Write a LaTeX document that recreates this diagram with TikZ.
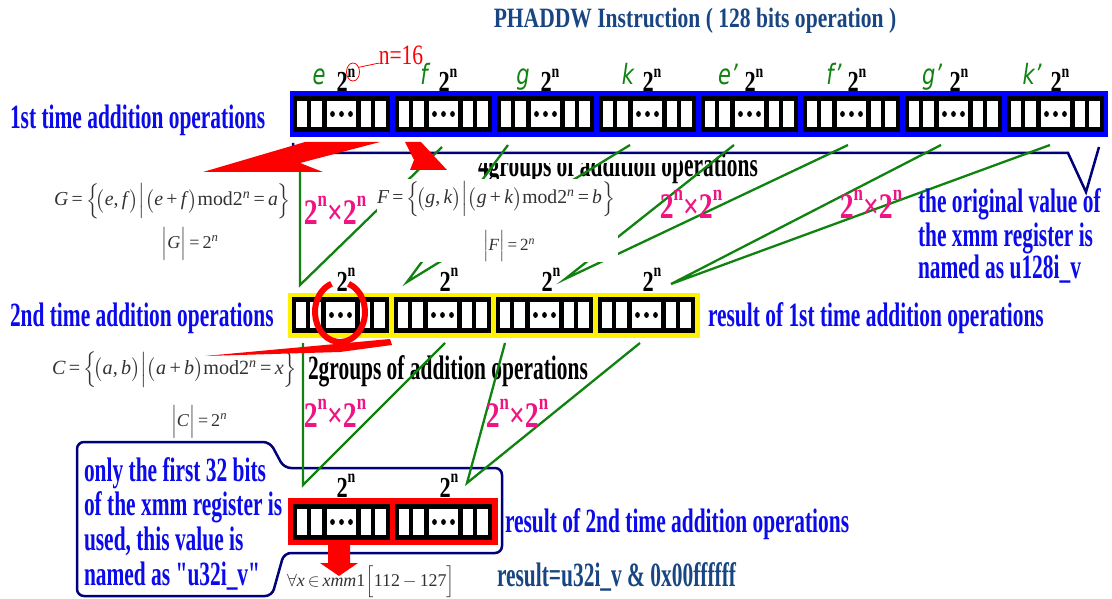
\documentclass[tikz,border=0pt]{standalone}
\usepackage{amsmath}
\usepackage{fontspec}
\usepackage{graphicx}
\setmainfont{Liberation Serif}[FakeStretch=0.77]
\newfontfamily\condfont{Liberation Serif}[FakeStretch=0.63]
\newfontfamily\fmfont{Liberation Serif}
\newfontfamily\gsans{DejaVu Sans}[FakeStretch=0.75]
\usetikzlibrary{shapes.geometric,calc}
\definecolor{titleblue}{RGB}{25,70,130}
\definecolor{lblue}{RGB}{10,10,235}
\definecolor{navy}{RGB}{0,0,120}
\definecolor{lgreen}{RGB}{15,130,15}
\definecolor{mag}{RGB}{240,20,130}
\definecolor{fgray}{RGB}{50,50,50}
\newcommand\pw[1]{2\raisebox{0.5em}{\fontsize{#1}{#1}\selectfont n}}
\newcommand\vi[1]{\textit{#1}}
\newcommand\qt{\symbol{34}}
\begin{document}
\begin{tikzpicture}[x=1pt,y=-1pt,
  every node/.style={inner sep=0pt, outer sep=0pt},
  bluelbl/.style={font=\fontsize{34}{34}\selectfont\condfont\bfseries, text=lblue, anchor=base west},
  darklbl/.style={font=\fontsize{28}{28}\selectfont\bfseries, text=titleblue},
  resultlbl/.style={font=\fontsize{34}{34}\selectfont\condfont\bfseries, text=titleblue, anchor=base west},
  blacklbl/.style={font=\fontsize{34}{34}\selectfont\condfont\bfseries, text=black, anchor=base west},
  pwlbl/.style={font=\fontsize{29}{29}\selectfont\bfseries, anchor=base},
  letter/.style={font=\fontsize{28}{28}\selectfont\gsans\itshape, text=lgreen, anchor=base},
  maglbl/.style={font=\fontsize{36}{36}\selectfont\bfseries, text=mag},
  formula/.style={text=fgray, font=\fontsize{21}{25}\selectfont\fmfont},
  gline/.style={draw=lgreen, line width=2.3pt, line join=miter},
  regseg/.pic={
    \node[fill=black, minimum width=97pt, minimum height=36pt, anchor=north west] (-box) at (0,0) {};
    \foreach \a/\b in {4/14,18/29,34/63,68/78,82/93} \fill[white] (\a,5) rectangle (\b,31);
    \foreach \d in {39.5,48.5,57.5} \fill[black] (\d,18) ellipse [x radius=2.4, y radius=3];
  }
]
\useasboundingbox (0,0) rectangle (1112,599);

% title
\node[darklbl] (title) at (695,21) {PHADDW Instruction ( 128 bits operation )};

% callout outline
\draw[navy, line width=2.5pt, rounded corners=7pt] (77,520) -- (77,442) -- (270,442) -- (284,468) -- (502,468) -- (502,553) -- (284,553) -- (272,596) -- (77,596) -- cycle;

% registers
\fill[blue] (290,91) rectangle (1108,137);
\foreach \i in {1,...,8} \pic (a\i) at ({293+102*(\i-1)},96) {regseg};
\fill[yellow] (288,293) rectangle (700,338);
\foreach \i in {1,...,4} \pic (b\i) at ({292+102*(\i-1)},297) {regseg};
\fill[red] (288,498) rectangle (498,545);
\foreach \i in {1,2} \pic (c\i) at ({293+102*(\i-1)},504) {regseg};

% 2^n labels
\foreach \x [count=\i] in {346,448,550,652,754,857,959,1060}
  \node[pwlbl] (pa\i) at (\x,92) {\pw{18}};
\foreach \x [count=\i] in {346,449,551,652}
  \node[pwlbl] (pb\i) at (\x,291) {\pw{18}};
\foreach \x [count=\i] in {346,449}
  \node[pwlbl] (pc\i) at (\x,497) {\pw{18}};

% green letters
\foreach \x/\t [count=\i] in {319/e,424/f,523/g,628/k,728/e’,834/f’,932/g’,1032/k’}
  \node[letter] (l\i) at (\x,85) {\t};

% n=16 annotation
\node[font=\fontsize{28}{28}\selectfont, text=red] (n16) at (401,55) {n=16};
\node[draw=red, line width=0.8pt, ellipse, minimum width=13pt, minimum height=18pt] (ncirc) at (353,72) {};
\draw[red, line width=0.8pt] (ncirc.40) -- (n16.200);

% 4groups text (top partly hidden)
\node[blacklbl] (g4) at (478,177) {4groups of addition operations};
\fill[white] (470,150) rectangle (680,163);
\draw[navy, line width=2.5pt] (293,143) -- (293,153) -- (1068,153) -- (1086,192) -- (1099,147);

% green lines first level
\coordinate (s1) at (300,147); \coordinate (s2) at (442,147);
\coordinate (s3) at (508,145); \coordinate (s4) at (630,145);
\coordinate (s5) at (734,145); \coordinate (s6) at (848,145);
\coordinate (s7) at (941,145); \coordinate (s8) at (1050,145);
\coordinate (v1) at (300,285); \coordinate (v2) at (407,282);
\coordinate (v3) at (565,279); \coordinate (v4) at (671,284);
\draw[gline] (s1) -- (v1) -- (s2);
\draw[gline] (s3) -- (v2) -- (s4);
\draw[gline] (s5) -- (v3) -- (s6);
\draw[gline] (s7) -- (v4) -- (s8);

% second level
\node[blacklbl] (g2) at (308,379) {2groups of addition operations};
\coordinate (t1) at (303,343); \coordinate (t2) at (445,343);
\coordinate (t3) at (505,343); \coordinate (t4) at (640,343);
\coordinate (w1) at (303,485); \coordinate (w2) at (467,483);
\draw[gline] (t1) -- (w1) -- (t2);
\draw[gline] (t3) -- (w2) -- (t4);

% formulas
\fill[white] (377,179) rectangle (618,262);
\node[formula, anchor=west] (fG) at (54,201) {\resizebox{237pt}{!}{\vi{G}\,=\,$\Big\{\!\big($\vi{e},\,\vi{f}$\big)\Big|\big($\vi{e}\,+\,\vi{f}$\big)$mod2\textsuperscript{\vi{n}}\,=\,\vi{a}$\Big\}$}};
\node[formula] (fGs) at (190,244) {\resizebox{57pt}{!}{$\Big|$\vi{G}$\Big|$\,=\,2\textsuperscript{\vi{n}}}};
\node[formula, anchor=west] (fF) at (377,199) {\resizebox{238pt}{!}{\vi{F}\,=\,$\Big\{\!\big($\vi{g},\,\vi{k}$\big)\Big|\big($\vi{g}\,+\,\vi{k}$\big)$mod2\textsuperscript{\vi{n}}\,=\,\vi{b}$\Big\}$}};
\node[formula] (fFs) at (509,246) {\resizebox{52pt}{!}{$\Big|$\vi{F}$\Big|$\,=\,2\textsuperscript{\vi{n}}}};
\node[formula, anchor=west] (fC) at (52,370) {\resizebox{245pt}{!}{\vi{C}\,=\,$\Big\{\!\big($\vi{a},\,\vi{b}$\big)\Big|\big($\vi{a}\,+\,\vi{b}$\big)$mod2\textsuperscript{\vi{n}}\,=\,\vi{x}$\Big\}$}};
\node[formula] (fCs) at (199,422) {\resizebox{56pt}{!}{$\Big|$\vi{C}$\Big|$\,=\,2\textsuperscript{\vi{n}}}};
\node[formula, anchor=west] (fX) at (287,582) {\resizebox{168pt}{!}{$\forall$\vi{x}\,$\in$\,\vi{xmm}1$\Big[$112\,$-$\,127$\Big]$}};

% red pointers
\fill[red] (203,172) -- (305,142) -- (380,142) -- (300,163) -- (323,172) -- cycle;
\fill[red] (405,142) -- (421,142) -- (447,170) -- (410,170) -- (414,160) -- cycle;
\coordinate (ringc) at (340,312);
\draw[red, line width=6pt] ($(ringc)+(-70:25 and 30)$) arc[start angle=-70, end angle=250, x radius=25, y radius=30];
\fill[red] (205,356) -- (390,339) -- (392,345) -- (340,352) -- cycle;
\fill[red] (328,545) -- (350,545) -- (350,563) -- (358,563) -- (339,576) -- (320,563) -- (328,563) -- cycle;

% magenta labels
\node[maglbl] (m1) at (335,210) {\pw{22}×\pw{22}};
\node[maglbl] (m2) at (691,204) {\pw{22}×\pw{22}};
\node[maglbl] (m3) at (871,204) {\pw{22}×\pw{22}};
\node[maglbl] (m4) at (335,413) {\pw{22}×\pw{22}};
\node[maglbl] (m5) at (517,413) {\pw{22}×\pw{22}};

% blue labels
\node[bluelbl] (r1) at (10,129) {1st time addition operations};
\node[bluelbl] (r2) at (10,326) {2nd time addition operations};
\node[bluelbl] (r2r) at (708,326) {result of 1st time addition operations};
\node[bluelbl] (r3r) at (505,532) {result of 2nd time addition operations};
\node[bluelbl] (o1) at (918,213) {the original value of};
\node[bluelbl] (o2) at (918,246) {the xmm register is};
\node[bluelbl] (o3) at (918,278) {named as u128i\_v};
\node[bluelbl] (q1) at (84,481) {only the first 32 bits};
\node[bluelbl] (q2) at (84,515) {of the xmm register is};
\node[bluelbl] (q3) at (84,550) {used, this value is};
\node[bluelbl] (q4) at (84,585) {named as \qt u32i\_v\qt};
\node[resultlbl] (res) at (497,586) {result=u32i\_v \& 0x00ffffff};
\end{tikzpicture}
\end{document}
